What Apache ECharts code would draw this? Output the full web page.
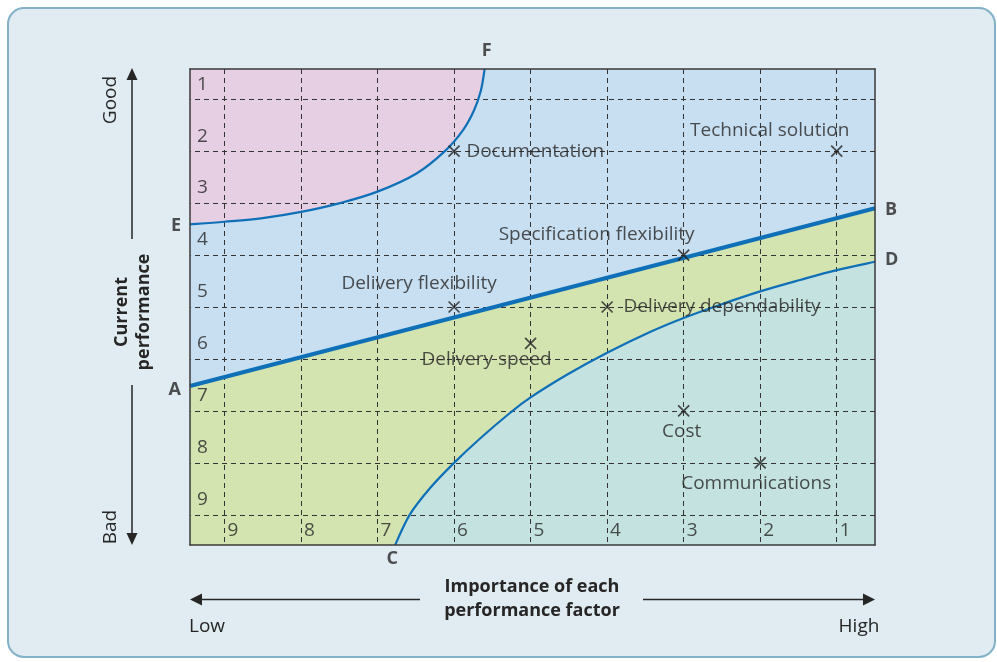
<!DOCTYPE html>
<html>
<head>
<meta charset="utf-8">
<script src="https://cdn.jsdelivr.net/npm/echarts@6/dist/echarts.min.js"></script>
<style>
  html, body { margin: 0; padding: 0; background: #ffffff; }
  #chart { width: 997px; height: 662px; }
</style>
</head>
<body>
<div id="chart"></div>
<script>
// Importance (1 = high, 9 = low) and current performance (1 = good, 9 = bad) scales
const importanceTicks = [9, 8, 7, 6, 5, 4, 3, 2, 1];
const performanceTicks = [1, 2, 3, 4, 5, 6, 7, 8, 9];

// Performance factors
const factorNames = ['Documentation', 'Technical solution', 'Specification flexibility',
  'Delivery flexibility', 'Delivery dependability', 'Delivery speed', 'Cost', 'Communications'];
const factorImportance = [6, 1, 3, 6, 4, 5, 3, 2];
const factorPerformance = [2, 2, 4, 5, 5, 5.7, 7, 8];

// Zone boundaries as [importance, performance]
const lineAB = [[9.45, 6.52], [0.5, 3.10]];
const curveEF = [[9.45, 3.41], [9.0, 3.36], [8.5, 3.29], [8.0, 3.17], [7.49, 3.0], [7.0, 2.78],
  [6.49, 2.43], [6.12, 2.0], [5.88, 1.59], [5.74, 1.22], [5.65, 0.84], [5.6, 0.42]];
const curveCD = [[6.77, 9.58], [6.58, 9.0], [6.31, 8.48], [6.0, 8.0], [5.66, 7.53], [5.27, 7.04],
  [5.0, 6.74], [4.52, 6.3], [4.0, 5.88], [3.44, 5.48], [3.0, 5.21], [2.53, 4.96], [2.0, 4.7],
  [1.48, 4.48], [1.0, 4.29], [0.5, 4.13]];

// Axis extents
const X_MIN = 0.5, X_MAX = 9.45;
const Y_MIN = 0.42, Y_MAX = 9.58;

const FONT = 'Open Sans';
const INK = '#262626';
const CURVE = '#0f70b7';
const PINK = '#e6cee3', BLUE = '#c8dff2', GREEN = '#d3e4b1', TEAL = '#c4e2e0';

// Where each factor's caption sits relative to its marker
const captionLayout = {
  'Documentation': { position: 'right', distance: 6, offset: [0, 0] },
  'Technical solution': { position: 'top', distance: 5, offset: [-67, 0] },
  'Specification flexibility': { position: 'top', distance: 5, offset: [-87, 0] },
  'Delivery flexibility': { position: 'top', distance: 5, offset: [-35, -3] },
  'Delivery dependability': { position: 'right', distance: 10, offset: [0, 0] },
  'Delivery speed': { position: 'bottom', distance: 5, offset: [-44, -5] },
  'Cost': { position: 'bottom', distance: 5, offset: [-2, 0] },
  'Communications': { position: 'bottom', distance: 5, offset: [-4, 0] }
};

const chart = echarts.init(document.getElementById('chart'), null, { renderer: 'canvas' });

// Smooth path (Catmull-Rom as cubic Béziers) through pixel points
function splinePath(pts) {
  let d = 'M' + pts[0][0] + ',' + pts[0][1];
  for (let i = 0; i < pts.length - 1; i++) {
    const p0 = pts[i - 1] || pts[i];
    const p1 = pts[i];
    const p2 = pts[i + 1];
    const p3 = pts[i + 2] || pts[i + 1];
    const c1x = p1[0] + (p2[0] - p0[0]) / 6, c1y = p1[1] + (p2[1] - p0[1]) / 6;
    const c2x = p2[0] - (p3[0] - p1[0]) / 6, c2y = p2[1] - (p3[1] - p1[1]) / 6;
    d += ' C' + c1x + ',' + c1y + ' ' + c2x + ',' + c2y + ' ' + p2[0] + ',' + p2[1];
  }
  return d;
}

// Custom series drawing one boundary curve; optional fill closes it through grid corners
function boundarySeries(data, opts) {
  return {
    type: 'custom',
    coordinateSystem: 'cartesian2d',
    silent: true,
    z: opts.z,
    data: data,
    renderItem: function (params, api) {
      if (params.dataIndexInside !== 0) return null;
      const n = params.dataInsideLength;
      const pts = [];
      for (let i = 0; i < n; i++) pts.push(api.coord([api.value(0, i), api.value(1, i)]));
      let d = splinePath(pts);
      if (opts.closeTo) {
        opts.closeTo.forEach(c => { const q = api.coord(c); d += ' L' + q[0] + ',' + q[1]; });
        d += ' Z';
        return { type: 'path', shape: { pathData: d }, style: { fill: opts.fill, stroke: null } };
      }
      return { type: 'path', shape: { pathData: d },
        style: { fill: null, stroke: CURVE, lineWidth: opts.width, lineCap: 'butt' } };
    }
  };
}

function axisCommon(extra) {
  return Object.assign({
    type: 'value',
    axisLine: { show: true, onZero: false, lineStyle: { color: '#3a3a3a', width: 1.5 } },
    axisTick: { show: false },
    axisLabel: { show: false },
    splitLine: { show: false },
    z: 10
  }, extra);
}

const xAx = { min: X_MIN, max: X_MAX, inverse: true };
const yAx = { min: Y_MIN, max: Y_MAX, inverse: true };

const gridLines = [];
importanceTicks.forEach(v => gridLines.push({ xAxis: v }));
performanceTicks.forEach(p => gridLines.push({ yAxis: p }));

const factorData = factorNames.map((n, i) => ({
  name: n,
  value: [factorImportance[i], factorPerformance[i]],
  label: Object.assign({ show: true, formatter: n }, captionLayout[n])
}));

const pointLetters = [
  { name: 'A', value: lineAB[0], label: { position: 'left', distance: 9, offset: [0, 4] } },
  { name: 'B', value: lineAB[lineAB.length - 1], label: { position: 'right', distance: 10, offset: [0, 2] } },
  { name: 'E', value: curveEF[0], label: { position: 'left', distance: 9, offset: [0, 1] } },
  { name: 'F', value: curveEF[curveEF.length - 1], label: { position: 'top', distance: 9, offset: [2, 0] } },
  { name: 'C', value: curveCD[0], label: { position: 'bottom', distance: 5, offset: [-3, 0] } },
  { name: 'D', value: curveCD[curveCD.length - 1], label: { position: 'right', distance: 10, offset: [0, -2] } }
];

const option = {
  animation: false,
  backgroundColor: '#ffffff',
  textStyle: { fontFamily: FONT },
  grid: { left: 190, top: 69, width: 685, height: 476, show: true, backgroundColor: GREEN, borderWidth: 0 },
  xAxis: [axisCommon(Object.assign({ position: 'bottom' }, xAx)), axisCommon(Object.assign({ position: 'top' }, xAx))],
  yAxis: [axisCommon(Object.assign({ position: 'left' }, yAx)), axisCommon(Object.assign({ position: 'right' }, yAx))],
  graphic: [
    { type: 'rect', z: -10, silent: true,
      shape: { x: 8, y: 8, width: 987, height: 649, r: 16 },
      style: { fill: '#e0ebf2', stroke: '#82b1c8', lineWidth: 2 } },
    // vertical performance arrow
    { type: 'line', shape: { x1: 132, y1: 79, x2: 132, y2: 239 }, style: { stroke: INK, lineWidth: 1.5 } },
    { type: 'polygon', shape: { points: [[132, 68], [126.5, 80], [137.5, 80]] }, style: { fill: INK } },
    { type: 'line', shape: { x1: 132, y1: 385, x2: 132, y2: 534 }, style: { stroke: INK, lineWidth: 1.5 } },
    { type: 'polygon', shape: { points: [[132, 545], [126.5, 533], [137.5, 533]] }, style: { fill: INK } },
    // horizontal importance arrow
    { type: 'line', shape: { x1: 201, y1: 599.5, x2: 420, y2: 599.5 }, style: { stroke: INK, lineWidth: 1.5 } },
    { type: 'polygon', shape: { points: [[190, 599.5], [202, 593.5], [202, 605.5]] }, style: { fill: INK } },
    { type: 'line', shape: { x1: 643, y1: 599.5, x2: 864, y2: 599.5 }, style: { stroke: INK, lineWidth: 1.5 } },
    { type: 'polygon', shape: { points: [[875, 599.5], [863, 593.5], [863, 605.5]] }, style: { fill: INK } },
    // axis captions
    { type: 'text', x: 111, y: 100, rotation: Math.PI / 2,
      style: { text: 'Good', font: '19px "Open Sans"', fill: INK, align: 'center', verticalAlign: 'middle' } },
    { type: 'text', x: 111, y: 527, rotation: Math.PI / 2,
      style: { text: 'Bad', font: '19px "Open Sans"', fill: INK, align: 'center', verticalAlign: 'middle' } },
    { type: 'text', x: 133, y: 312, rotation: Math.PI / 2,
      style: { text: 'Current\nperformance', font: 'bold 18px "Open Sans"', lineHeight: 22, fill: INK, align: 'center', verticalAlign: 'middle' } },
    { type: 'text', x: 532, y: 599,
      style: { text: 'Importance of each\nperformance factor', font: 'bold 18px "Open Sans"', lineHeight: 24, fill: INK, align: 'center', verticalAlign: 'middle' } },
    { type: 'text', x: 189, y: 627,
      style: { text: 'Low', font: '19px "Open Sans"', fill: INK, align: 'left', verticalAlign: 'middle' } },
    { type: 'text', x: 859, y: 627,
      style: { text: 'High', font: '19px "Open Sans"', fill: INK, align: 'center', verticalAlign: 'middle' } }
  ],
  series: [
    // zone fills
    { type: 'line', data: lineAB, symbol: 'none', silent: true, z: 1,
      lineStyle: { width: 0 }, areaStyle: { color: BLUE, opacity: 1, origin: 'start' } },
    boundarySeries(curveEF, { z: 2, fill: PINK, closeTo: [[X_MAX, Y_MIN]] }),
    boundarySeries(curveCD, { z: 2, fill: TEAL, closeTo: [[X_MIN, Y_MAX]] }),
    // dashed reference grid
    { type: 'line', data: [], z: 3, silent: true,
      markLine: { silent: true, symbol: ['none', 'none'], label: { show: false },
        lineStyle: { color: '#333333', width: 1, type: [5, 4] }, data: gridLines } },
    // zone boundaries
    { type: 'line', data: lineAB, symbol: 'none', silent: true, z: 5,
      lineStyle: { color: CURVE, width: 4 } },
    boundarySeries(curveEF, { z: 5, width: 2.2 }),
    boundarySeries(curveCD, { z: 5, width: 2.2 }),
    // tick numbers
    { type: 'scatter', clip: false, z: 6, silent: true, symbolSize: 0,
      data: importanceTicks.map(v => [v, Y_MAX]),
      label: { show: true, position: 'right', distance: 3, offset: [0, -14],
        formatter: p => String(p.value[0]), fontSize: 19, color: INK, fontFamily: FONT } },
    { type: 'scatter', clip: false, z: 6, silent: true, symbolSize: 0,
      data: performanceTicks.map(p => [X_MAX, p]),
      label: { show: true, position: 'right', distance: 7, offset: [0, -15],
        formatter: p => String(p.value[1]), fontSize: 19, color: INK, fontFamily: FONT } },
    // boundary end letters
    { type: 'scatter', clip: false, z: 6, silent: true, symbolSize: 0,
      data: pointLetters,
      label: { show: true, formatter: '{b}', fontSize: 18, fontWeight: 'bold', color: INK, fontFamily: FONT } },
    // performance factors
    { type: 'scatter', z: 7, silent: true,
      symbol: 'path://M0,0L10,10M0,10L10,0', symbolSize: 11,
      itemStyle: { color: 'rgba(0,0,0,0)', borderColor: '#222222', borderWidth: 1.7 },
      label: { fontSize: 19, color: INK, fontFamily: FONT },
      data: factorData }
  ]
};

chart.setOption(option);
</script>
</body>
</html>
